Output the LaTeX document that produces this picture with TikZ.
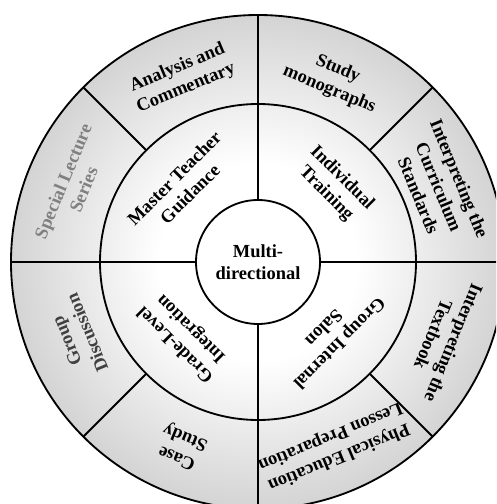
\documentclass[tikz,border=0pt]{standalone}
\usepackage{fontspec}
\setmainfont{Liberation Serif}

% white in the middle, turning light grey towards the rim
\pgfdeclareradialshading{wheelfill}{\pgfpoint{0bp}{0bp}}{%
  color(0bp)=(white); color(10bp)=(white);
  color(25bp)=(black!17); color(50bp)=(black!17)}

\tikzset{
  ring/.style={line width=1.05pt},
  sector/.style={font=\bfseries\fontsize{10.5}{12.6}\selectfont,
                 align=center, inner sep=0pt},
}

\begin{document}
\begin{tikzpicture}
  \clip (-5.16, -4.84) rectangle (4.76, 5.24);
  \coordinate (o) at (0, 0);
  \shade[shading=wheelfill] (o) circle (4.94);
  \draw[ring] (o) circle (4.94);
  \draw[ring] (o) circle (3.16);
  \draw[ring, fill=white] (o) circle (1.24);
  % spokes: four through both rings, four through the outer ring only
  \foreach \a in {0, 90, 180, 270}
    \draw[ring] (\a:1.24) -- (\a:4.94);
  \foreach \a in {45, 135, 225, 315}
    \draw[ring] (\a:3.16) -- (\a:4.94);

  \node[sector] (hub) at (o) {Multi-\\directional};

  % inner ring
  \node[sector, rotate=45] (guidance) at (135:2.15) {Master Teacher\\Guidance};
  \node[sector, rotate=-45] (training) at (45:2.15) {Individual\\Training};
  \node[sector, rotate=-135] (salon) at (-45:2.1) {Group Internal\\Salon};
  \node[sector, rotate=135] (grade) at (225:2.1) {Grade-Level\\Integration};

  % outer ring
  \node[sector, rotate=22.5] (analysis) at (112.5:3.98) {Analysis and\\Commentary};
  \node[sector, rotate=-22.5] (study) at (67.5:3.95) {Study\\monographs};
  \node[sector, rotate=-67.5] (standards) at (22.5:3.92) {Interpreting the\\Curriculum\\Standards};
  \node[sector, rotate=-112.5] (textbook) at (-22.5:4.02) {Interpreting the\\Textbook};
  \node[sector, rotate=-157.5] (lesson) at (-67.5:4.0) {Physical Education\\Lesson Preparation};
  \node[sector, rotate=157.5] (case) at (-112.5:4.0) {Case\\Study};
  \node[sector, rotate=112.5, text=black!75] (discussion) at (202.5:3.92) {Group\\Discussion};
  \node[sector, rotate=67.5, text=black!50] (lecture) at (157.5:4.0) {Special Lecture\\Series};
\end{tikzpicture}
\end{document}
